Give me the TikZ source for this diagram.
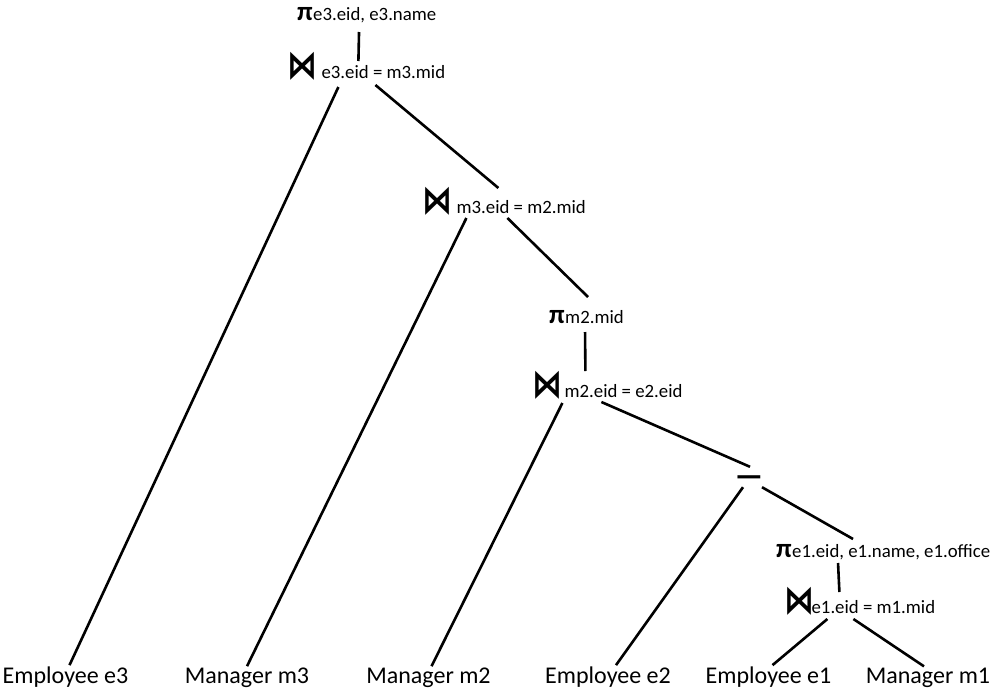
\documentclass[tikz,border=0pt]{standalone}
\usepackage{fontspec}
\setmainfont{Carlito}
\newfontfamily\symfont{DejaVu Sans}
\usetikzlibrary{positioning}

\begin{document}
\begin{tikzpicture}[x=1pt, y=1pt,
	leaf/.style={font=\fontsize{24}{28}\selectfont, inner sep=1pt, anchor=base},
	joinop/.style={font=\symfont\bfseries\fontsize{30}{34}\selectfont, inner sep=0pt, anchor=base west},
	projop/.style={font=\bfseries\fontsize{27}{30}\selectfont, inner sep=0pt, anchor=base west},
	cond/.style={font=\fontsize{18.8}{22}\selectfont, inner sep=0pt},
	branch/.style={line width=2.6pt}]
	\useasboundingbox (0,0) rectangle (1001,-691);
	% operators
	\node[projop] (pe3) at (297,-20) {π};
	\node[cond, base right=0pt of pe3] (pe3c) {e3.eid, e3.name};
	\node[joinop] (je3) at (287.5,-78) {\scalebox{1}[1.3]{⋈}};
	\node[cond, base right=3.5pt of je3] (je3c) {e3.eid = m3.mid};
	\node[joinop] (jm3) at (422.5,-213) {\scalebox{1}[1.3]{⋈}};
	\node[cond, base right=3.5pt of jm3] (jm3c) {m3.eid = m2.mid};
	\node[projop] (pm2) at (549,-323) {π};
	\node[cond, base right=0pt of pm2] (pm2c) {m2.mid};
	\node[joinop] (jm2) at (532.5,-397) {\scalebox{1}[1.3]{⋈}};
	\node[cond, base right=1.5pt of jm2] (jm2c) {m2.eid = e2.eid};
	\node[font=\bfseries\fontsize{24}{28}\selectfont, inner sep=0pt, minimum height=20pt] (diff) at (749,-477) {\raisebox{-10.5pt}[0pt][0pt]{\scalebox{1.3}[1.5]{—}}};
	\node[projop] (pe1) at (776,-557) {π};
	\node[cond, base right=0pt of pe1] (pe1c) {e1.eid, e1.name, e1.office};
	\node[joinop] (je1) at (784.5,-613) {\scalebox{1}[1.3]{⋈}};
	\node[cond, base right=-3.5pt of je1] (je1c) {e1.eid = m1.mid};
	% relations
	\node[leaf] (e3) at (65.5,-683) {Employee e3};
	\node[leaf] (m3) at (247,-683) {Manager m3};
	\node[leaf] (m2) at (428.5,-683) {Manager m2};
	\node[leaf] (e2) at (608,-683) {Employee e2};
	\node[leaf] (e1) at (768.5,-683) {Employee e1};
	\node[leaf] (m1) at (928,-683) {Manager m1};
	\path
		([xshift=46pt,yshift=-12pt]pe3c.base west) edge [branch] ([xshift=37pt,yshift=17pt]je3c.base west)
		([xshift=17pt,yshift=-9pt]je3c.base west) edge [branch] ([xshift=4pt]e3.north)
		([xshift=54pt,yshift=-7pt]je3c.base west) edge [branch] ([xshift=42pt,yshift=25pt]jm3c.base west)
		([xshift=10pt,yshift=-5pt]jm3c.base west) edge [branch] (m3.north)
		([xshift=51pt,yshift=-5pt]jm3c.base west) edge [branch] ([xshift=23pt,yshift=26pt]pm2c.base west)
		([xshift=20pt,yshift=-9pt]pm2c.base west) edge [branch] ([xshift=21pt,yshift=26pt]jm2c.base west)
		([xshift=-2pt,yshift=-6pt]jm2c.base west) edge [branch] ([xshift=3pt]m2.north)
		([xshift=37pt,yshift=-5pt]jm2c.base west) edge [branch] ([xshift=1pt]diff.north)
		([xshift=-6pt]diff.south) edge [branch] ([xshift=8pt]e2.north)
		([xshift=13pt]diff.south) edge [branch] ([xshift=61pt,yshift=18pt]pe1c.base west)
		([xshift=46pt,yshift=-6pt]pe1c.base west) edge [branch] ([xshift=28pt,yshift=21pt]je1c.base west)
		([xshift=16pt,yshift=-6pt]je1c.base west) edge [branch] ([xshift=4pt]e1.north)
		([xshift=42pt,yshift=-6pt]je1c.base west) edge [branch] ([xshift=-4pt]m1.north)
	;
\end{tikzpicture}
\end{document}
